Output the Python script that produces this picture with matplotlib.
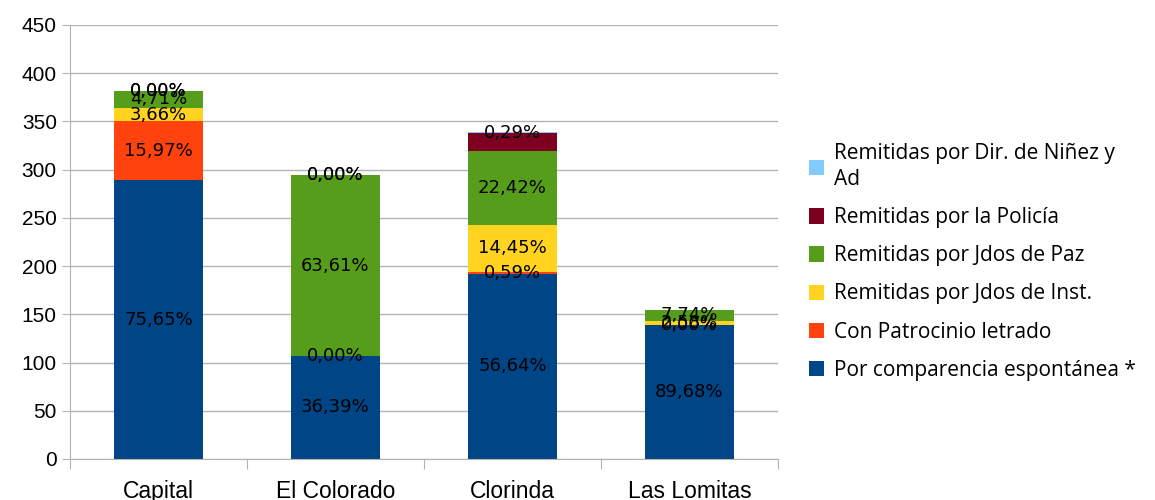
import matplotlib.pyplot as plt
import numpy as np

categories = ["Capital", "El Colorado", "Clorinda", "Las Lomitas"]
series_names = [
    "Por comparencia espontánea *",
    "Con Patrocinio letrado",
    "Remitidas por Jdos de Inst.",
    "Remitidas por Jdos de Paz",
    "Remitidas por la Policía",
    "Remitidas por Dir. de Niñez y\nAd",
]
espontanea = [289, 107, 192, 139]
patrocinio = [61, 0, 2, 0]
jdos_inst = [14, 0, 49, 4]
jdos_paz = [18, 187, 76, 12]
policia = [0, 0, 19, 0]
dir_ninez = [0, 0, 1, 0]

# data labels that the reference does not show: (category index, series index)
hidden_labels = {(2, 4), (3, 4), (3, 5), (1, 2)}

colors = ["#004586", "#ff420e", "#ffd320", "#579d1c", "#7e0021", "#83caff"]

values = np.array([espontanea, patrocinio, jdos_inst, jdos_paz, policia, dir_ninez], dtype=float)
totals = values.sum(axis=0)

fig = plt.figure(figsize=(11.55, 5), dpi=100)
ax = fig.add_axes([70 / 1155, 41 / 500, 708 / 1155, 434 / 500])

x = np.arange(len(categories))
bottom = np.zeros(len(categories))
handles = []
for i, name in enumerate(series_names):
    h = ax.bar(x, values[i], 0.5, bottom=bottom, color=colors[i], label=name, zorder=2)
    handles.append(h)
    for j in range(len(categories)):
        if (j, i) in hidden_labels:
            continue
        pct = values[i][j] / totals[j] * 100
        txt = f"{pct:.2f}%".replace(".", ",")
        ax.text(x[j], bottom[j] + values[i][j] / 2, txt, ha="center", va="center",
                fontsize=13, color="black", family="DejaVu Sans", zorder=3)
    bottom += values[i]

ax.set_xlim(-0.5, 3.5)
ax.set_ylim(0, 450)
ax.set_yticks(np.arange(0, 451, 50))
ax.yaxis.grid(True, color="#b3b3b3", linewidth=1, zorder=0)
ax.set_axisbelow(True)
for s in ["top", "right"]:
    ax.spines[s].set_visible(False)
for s in ["left", "bottom"]:
    ax.spines[s].set_color("#b3b3b3")
ax.tick_params(axis="y", colors="#b3b3b3", length=6, labelcolor="black", labelsize=15)
ax.set_xticks(np.arange(-0.5, 3.6, 1))
ax.set_xticklabels([])
ax.tick_params(axis="x", colors="#b3b3b3", length=7)
ax.set_xticks(x, minor=True)
ax.set_xticklabels(categories, minor=True)
ax.tick_params(axis="x", which="minor", length=0, labelsize=16.5, labelcolor="black", pad=15)
for lbl in ax.get_yticklabels() + ax.get_xticklabels(minor=True):
    lbl.set_family("Liberation Sans")

leg = fig.legend(handles[::-1], series_names[::-1], loc="center left",
                 bbox_to_anchor=(790 / 1155, 0.476), frameon=False,
                 prop={"family": "Open Sans", "size": 15}, handlelength=0.75, handleheight=0.75,
                 handletextpad=0.45, labelspacing=0.82)
for t in leg.get_texts():
    t.set_linespacing(1.3)

fig.savefig("out.png", dpi=100)
